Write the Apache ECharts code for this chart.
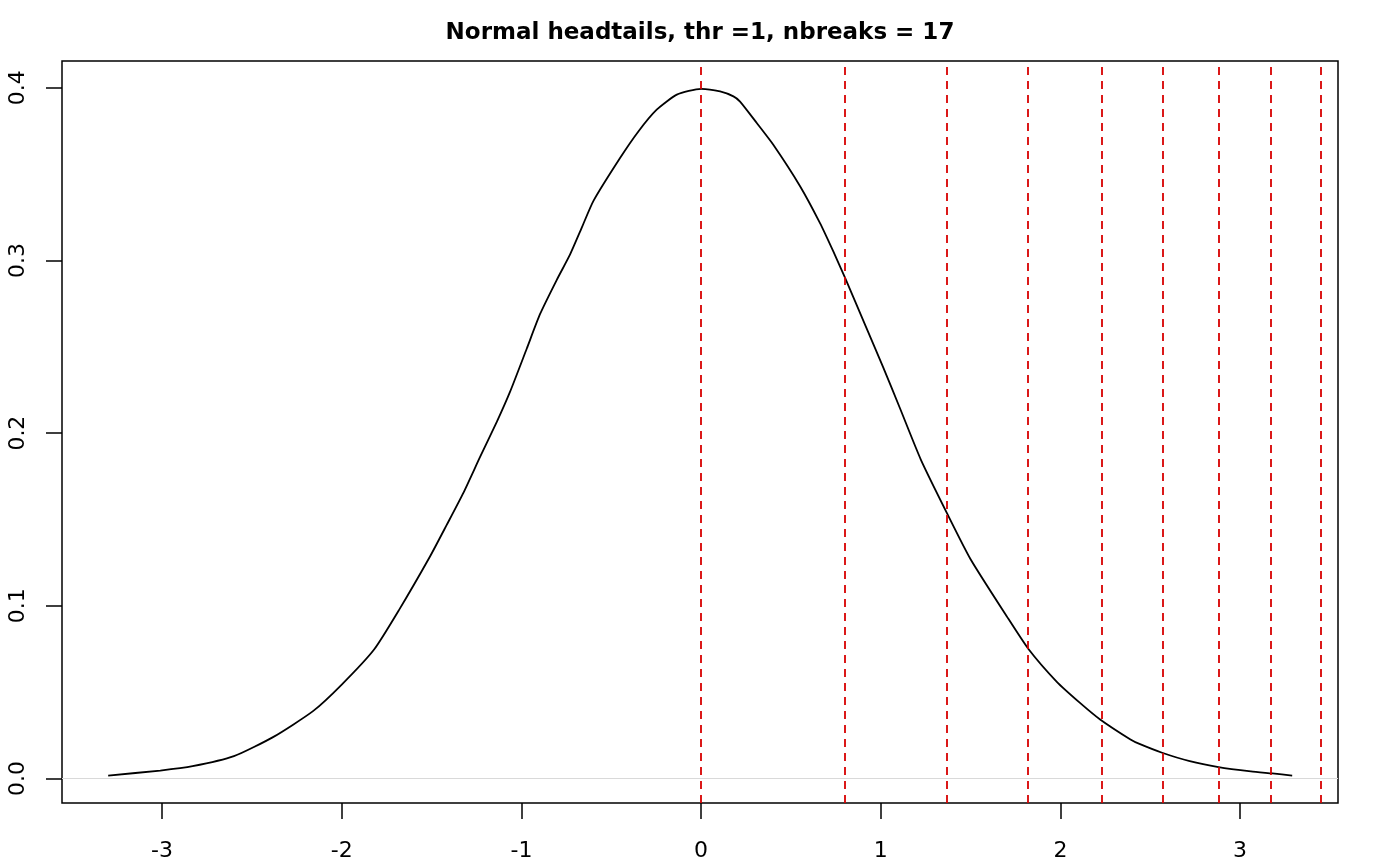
<!DOCTYPE html>
<html>
<head>
<meta charset="utf-8">
<script src="https://cdn.jsdelivr.net/npm/echarts@6/dist/echarts.min.js"></script>
<style>
  html, body { margin: 0; padding: 0; background: #fff; }
  #chart { width: 1400px; height: 865px; }
</style>
</head>
<body>
<div id="chart"></div>
<script>
// Density curve (x, y)
const densityX = [-3.30, -3.01, -2.83, -2.60, -2.38, -2.16, -2.00, -1.82, -1.68, -1.508, -1.415, -1.323, -1.230, -1.137, -1.063, -0.970, -0.896, -0.803, -0.729, -0.664, -0.599, -0.451, -0.349, -0.247, -0.135, 0.00, 0.106, 0.18, 0.217, 0.31, 0.402, 0.551, 0.662, 0.736, 0.801, 0.916, 1.012, 1.107, 1.223, 1.367, 1.50, 1.701, 1.822, 1.980, 2.109, 2.221, 2.39, 2.44, 2.566, 2.72, 2.88, 3.06, 3.18, 3.29];
const densityY = [0.0017, 0.0046, 0.0071, 0.0129, 0.0241, 0.0390, 0.0544, 0.0747, 0.0978, 0.1287, 0.1470, 0.1654, 0.1862, 0.2065, 0.2240, 0.2490, 0.2690, 0.2888, 0.3035, 0.3190, 0.3345, 0.3593, 0.3747, 0.3873, 0.3960, 0.3994, 0.3979, 0.3950, 0.3920, 0.3796, 0.3670, 0.3430, 0.3216, 0.3052, 0.2900, 0.2620, 0.2385, 0.2144, 0.1847, 0.1540, 0.1270, 0.0940, 0.0750, 0.0560, 0.0438, 0.0342, 0.0226, 0.0200, 0.0149, 0.0100, 0.0066, 0.0041, 0.0029, 0.0017];
// Head/tails break points (red dashed lines)
const breaks = [0, 0.801, 1.369, 1.825, 2.226, 2.566, 2.883, 3.173, 3.446];
// Tick labels
const xTicks = [-3, -2, -1, 0, 1, 2, 3];
const yTicks = [0, 0.1, 0.2, 0.3, 0.4];
const titleText = 'Normal headtails, thr =1, nbreaks = 17';

const FONT = 'DejaVu Sans';
const chart = echarts.init(document.getElementById('chart'), null, { renderer: 'canvas' });

const curve = densityX.map((x, i) => [x, densityY[i]]);

chart.setOption({
  animation: false,
  backgroundColor: '#ffffff',
  title: {
    text: titleText,
    left: 'center',
    top: 17,
    textStyle: { fontFamily: FONT, fontWeight: 'bold', fontSize: 23, color: '#000' }
  },
  grid: {
    left: 62, right: 62, top: 61, bottom: 62,
    show: true, borderColor: '#000', borderWidth: 1.5, backgroundColor: 'transparent'
  },
  xAxis: {
    type: 'value',
    min: -3.557, max: 3.545,
    position: 'bottom',
    splitLine: { show: false },
    axisLine: { show: false, onZero: false },
    axisTick: { show: true, customValues: xTicks, length: 16, lineStyle: { color: '#000', width: 1.5 } },
    axisLabel: {
      customValues: xTicks, margin: 37, fontFamily: FONT, fontSize: 22, color: '#000',
      formatter: v => String(v)
    }
  },
  yAxis: {
    type: 'value',
    min: -0.0142, max: 0.4155,
    position: 'left',
    splitLine: { show: false },
    axisLine: { show: false, onZero: false },
    axisTick: { show: true, customValues: yTicks, length: 16, lineStyle: { color: '#000', width: 1.5 } },
    axisLabel: {
      customValues: yTicks, margin: 33, rotate: 90, fontFamily: FONT, fontSize: 22, color: '#000',
      formatter: v => v.toFixed(1)
    }
  },
  series: [
    {
      type: 'line',
      data: curve,
      showSymbol: false,
      smooth: 0.2,
      lineStyle: { color: '#000', width: 1.8 },
      z: 3,
      markLine: {
        silent: true,
        symbol: ['none', 'none'],
        label: { show: false },
        animation: false,
        data: [
          { yAxis: 0, lineStyle: { color: '#d9d9d9', width: 1, type: 'solid' } }
        ].concat(breaks.map(b => ({ xAxis: b, lineStyle: { color: '#d80000', width: 1.8, type: [8, 6] } })))
      }
    }
  ]
});
</script>
</body>
</html>
